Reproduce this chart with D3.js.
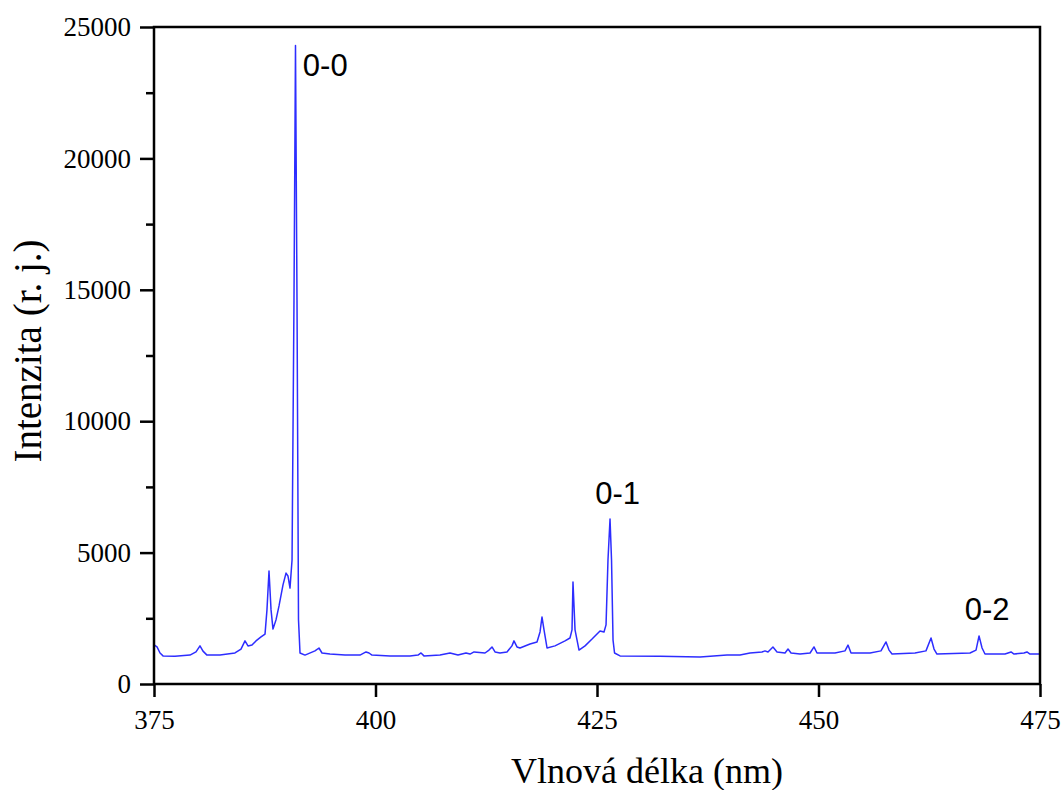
<!DOCTYPE html>
<html>
<head>
<meta charset="utf-8">
<script src="https://cdn.jsdelivr.net/npm/d3@7"></script>
<style>
  html, body { margin: 0; padding: 0; background: #fff; }
  svg { display: block; }
</style>
</head>
<body>
<div id="chart"></div>
<script>
/* Emission spectrum, N2+ first negative system bands 0-0, 0-1, 0-2 */

var wavelength = [
  375.05, 375.34, 375.68, 376.02, 377.37, 379.06, 379.74, 380.19, 380.53, 380.98,
  382.45, 384.14, 384.82, 385.27, 385.61, 386.06, 386.51, 387.08, 387.53, 387.75,
  387.98, 388.21, 388.43, 388.77, 389.11, 389.56, 389.90, 390.12, 390.35, 390.58,
  390.80, 390.97, 391.14, 391.31, 391.48, 392.04, 393.17, 393.62, 393.96, 394.86,
  396.56, 398.25, 398.93, 399.27, 399.60, 401.64, 403.89, 404.80, 405.14, 405.47,
  407.28, 408.41, 409.31, 410.21, 410.67, 411.12, 412.36, 412.81, 413.15, 413.49,
  414.05, 414.84, 415.40, 415.63, 415.97, 416.31, 417.44, 418.23, 418.57, 418.79,
  419.02, 419.36, 420.26, 421.39, 421.95, 422.18, 422.29, 422.52, 422.97, 423.65,
  424.44, 425.34, 425.79, 426.02, 426.24, 426.47, 426.64, 426.81, 426.98, 427.60,
  432.11, 436.63, 439.67, 441.14, 442.27, 443.62, 443.96, 444.30, 444.86, 445.32,
  446.22, 446.56, 446.90, 447.92, 449.05, 449.49, 449.83, 451.86, 452.99, 453.33,
  453.67, 455.82, 457.05, 457.62, 457.96, 458.30, 460.89, 462.13, 462.70, 463.04,
  463.37, 467.10, 467.78, 468.12, 468.46, 468.79, 471.05, 471.73, 472.07, 473.19,
  473.53, 473.87, 475.00
];

var intensity = [
  1480, 1410, 1180, 1070, 1060, 1100, 1220, 1450, 1250, 1100,
  1100, 1180, 1330, 1640, 1450, 1480, 1640, 1790, 1900, 2820,
  4300, 2820, 2090, 2440, 2970, 3770, 4220, 4110, 3650, 4720,
  14600, 24300, 14600, 2440, 1180, 1100, 1260, 1370, 1180, 1140,
  1100, 1100, 1220, 1180, 1100, 1070, 1070, 1100, 1180, 1070,
  1100, 1180, 1100, 1180, 1140, 1220, 1180, 1290, 1410, 1220,
  1180, 1220, 1450, 1640, 1410, 1370, 1520, 1600, 1980, 2550,
  2060, 1370, 1450, 1640, 1750, 2060, 3880, 2060, 1290, 1450,
  1710, 2020, 1980, 2250, 4720, 6280, 4720, 1670, 1180, 1070,
  1060, 1030, 1100, 1100, 1180, 1220, 1260, 1220, 1410, 1220,
  1180, 1330, 1180, 1140, 1180, 1410, 1180, 1180, 1260, 1480,
  1180, 1180, 1260, 1600, 1290, 1140, 1180, 1260, 1750, 1330,
  1140, 1180, 1290, 1830, 1370, 1140, 1140, 1220, 1140, 1180,
  1220, 1140, 1140
];

var xTicks = [375, 400, 425, 450, 475];
var yTicks = [0, 5000, 10000, 15000, 20000, 25000];
var yMinorTicks = [2500, 7500, 12500, 17500, 22500];

var bandLabels = ['0-0', '0-1', '0-2'];
var bandLabelX = [391.8, 424.8, 466.5];
var bandLabelY = [23150, 6850, 2450];

(function() {
  var W = 1063, H = 790;
  var mLeft = 154, mRight = 1040, mTop = 27, mBottom = 684;
  var serif = 'Liberation Serif';

  var x = d3.scaleLinear().domain([375, 475]).range([mLeft, mRight]);
  var y = d3.scaleLinear().domain([0, 25000]).range([mBottom, mTop]);

  var svg = d3.select('#chart').append('svg')
    .attr('width', W)
    .attr('height', H);

  /* ---- spectrum ---- */
  var pts = wavelength.map(function(w, i) { return [w, intensity[i]]; });
  var line = d3.line()
    .x(function(d) { return x(d[0]); })
    .y(function(d) { return y(d[1]); });

  svg.append('path')
    .datum(pts)
    .attr('d', line)
    .attr('fill', 'none')
    .attr('stroke', '#2d2dff')
    .attr('stroke-width', 1.5)
    .attr('stroke-linejoin', 'round');

  /* ---- axes ---- */
  var xAxis = d3.axisBottom(x).tickValues(xTicks).tickSize(13).tickPadding(13)
    .tickFormat(d3.format('d'));
  var yAxis = d3.axisLeft(y).tickValues(yTicks).tickSize(14).tickPadding(9)
    .tickFormat(d3.format('d'));
  var yMinor = d3.axisLeft(y).tickValues(yMinorTicks).tickSize(8).tickFormat('');

  function styleAxis(g) {
    g.attr('font-size', 27).attr('font-family', serif);
    g.select('.domain').remove();
    g.selectAll('.tick line').attr('stroke', '#000').attr('stroke-width', 2.5);
    g.selectAll('.tick text')
      .attr('fill', '#000')
      .attr('font-family', serif)
      .attr('font-size', 27);
  }

  svg.append('g').attr('transform', 'translate(0,' + mBottom + ')').call(xAxis).call(styleAxis);
  svg.append('g').attr('transform', 'translate(' + mLeft + ',0)').call(yAxis).call(styleAxis);
  svg.append('g').attr('transform', 'translate(' + mLeft + ',0)').call(yMinor).call(styleAxis);

  /* frame */
  svg.append('rect')
    .attr('x', mLeft).attr('y', mTop)
    .attr('width', mRight - mLeft).attr('height', mBottom - mTop)
    .attr('fill', 'none')
    .attr('stroke', '#000')
    .attr('stroke-width', 2.5);

  /* ---- titles ---- */
  svg.append('text')
    .attr('x', 647).attr('y', 783)
    .attr('text-anchor', 'middle')
    .attr('font-family', serif)
    .attr('font-size', 36)
    .text('Vlnová délka (nm)');

  svg.append('text')
    .attr('transform', 'translate(41,351) rotate(-90)')
    .attr('text-anchor', 'middle')
    .attr('font-family', serif)
    .attr('font-size', 39)
    .text('Intenzita (r. j.)');

  /* ---- band labels ---- */
  svg.selectAll('.band')
    .data(bandLabels)
    .enter().append('text')
    .attr('class', 'band')
    .attr('x', function(d, i) { return x(bandLabelX[i]); })
    .attr('y', function(d, i) { return y(bandLabelY[i]); })
    .attr('font-family', 'Liberation Sans')
    .attr('font-size', 31)
    .text(function(d) { return d; });
})();
</script>
</body>
</html>
